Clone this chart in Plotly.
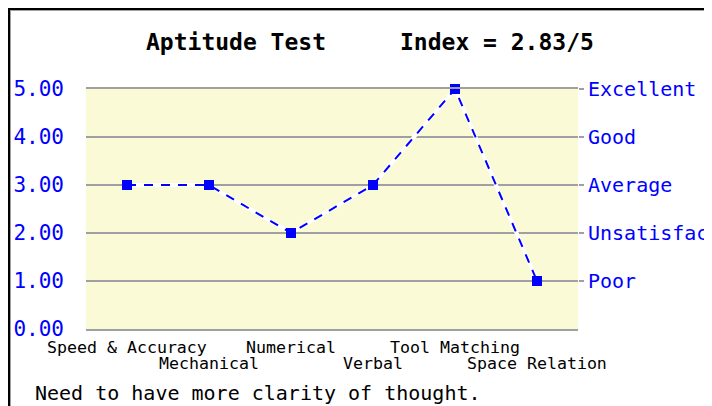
import plotly.graph_objects as go

categories = ["Speed & Accuracy", "Mechanical", "Numerical", "Verbal", "Tool Matching", "Space Relation"]
scores = [3, 3, 2, 3, 5, 1]
left_ticks = [0, 1, 2, 3, 4, 5]
right_tickvals = [1, 2, 3, 4, 5]
right_ticktext = ["Poor", "Unsatisfactory", "Average", "Good", "Excellent"]
title_left = "Aptitude Test"
title_right = "Index = 2.83/5"
comment = "Need to have more clarity of thought."

MONO = "DejaVu Sans Mono"
BLUE = "#0000ff"
GRID = "#a0a0a0"
OFF = 8  # page body margin
W, H = 704, 398
# plot area in screenshot pixels
PX0, PX1, PY0, PY1 = 86, 578, 89, 329
L, T = PX0 - OFF, PY0 - OFF
PW, PH = PX1 - PX0, PY1 - PY0
R, B = W - L - PW, H - T - PH


def px(x):
    return (x - PX0) / PW


def py(y):
    return (PY1 - y) / PH


xi = list(range(len(categories)))

fig = go.Figure()
fig.add_trace(go.Scatter(x=xi, y=scores, mode="lines",
                         line=dict(color="white", width=4), cliponaxis=False,
                         hoverinfo="skip", showlegend=False))
fig.add_trace(go.Scatter(x=xi, y=scores, mode="lines+markers",
                         line=dict(color=BLUE, width=2, dash="9px,8px"),
                         marker=dict(symbol="square", size=10, color=BLUE),
                         cliponaxis=False, showlegend=False))
fig.add_trace(go.Scatter(x=[xi[0]], y=[scores[0]], yaxis="y2", mode="markers",
                         marker=dict(opacity=0), hoverinfo="skip", showlegend=False))

fig.update_layout(
    width=W, height=H,
    margin=dict(l=L, r=R, t=T, b=B, autoexpand=False),
    paper_bgcolor="white",
    plot_bgcolor="#fafad7",
    showlegend=False,
    xaxis=dict(range=[-0.5, len(categories) - 0.5], showgrid=False, zeroline=False,
               showticklabels=False, ticks="", showline=True, mirror=True,
               linecolor=GRID, linewidth=2),
    yaxis=dict(range=[0, 5], tickvals=left_ticks, tickformat=".2f", automargin=False,
               showgrid=True, gridcolor=GRID, gridwidth=2, zeroline=False,
               ticks="", ticklabelstandoff=21,
               tickfont=dict(family=MONO, size=21, color=BLUE)),
    yaxis2=dict(range=[0, 5], overlaying="y", side="right", tickvals=right_tickvals,
                ticktext=right_ticktext, showgrid=False, zeroline=False, automargin=False,
                ticks="outside", ticklen=5, tickcolor=GRID, tickwidth=2,
                ticklabelstandoff=0,
                tickfont=dict(family=MONO, size=20, color=BLUE)),
)

annotations = []
for i, c in enumerate(categories):
    annotations.append(dict(x=i, y=py(347) if i % 2 == 0 else py(363), xref="x", yref="paper",
                            text=c, showarrow=False, xanchor="center", yanchor="middle",
                            font=dict(family=MONO, size=16.6, color="black")))
annotations.append(dict(x=px(236), y=py(42), xref="paper", yref="paper", text="<b>" + title_left + "</b>",
                        showarrow=False, xanchor="center", yanchor="middle",
                        font=dict(family=MONO, size=23, color="black")))
annotations.append(dict(x=px(497), y=py(42), xref="paper", yref="paper", text="<b>" + title_right + "</b>",
                        showarrow=False, xanchor="center", yanchor="middle",
                        font=dict(family=MONO, size=23, color="black")))
annotations.append(dict(x=px(33), y=py(393), xref="paper", yref="paper", text=comment,
                        showarrow=False, xanchor="left", yanchor="middle",
                        font=dict(family=MONO, size=20, color="black")))
fig.update_layout(annotations=annotations)

RIGHT = OFF + W
shapes = [
    dict(type="line", xref="paper", yref="paper", x0=px(8), x1=px(RIGHT), y0=py(9), y1=py(9),
         line=dict(color="black", width=2), layer="above"),
    dict(type="line", xref="paper", yref="paper", x0=px(10), x1=px(RIGHT), y0=py(10.5), y1=py(10.5),
         line=dict(color=GRID, width=1), layer="above"),
    dict(type="line", xref="paper", yref="paper", x0=px(9), x1=px(9), y0=py(8), y1=py(OFF + H),
         line=dict(color="black", width=2), layer="above"),
    dict(type="line", xref="paper", yref="paper", x0=px(10.5), x1=px(10.5), y0=py(10), y1=py(OFF + H),
         line=dict(color=GRID, width=1), layer="above"),
]
fig.update_layout(shapes=shapes)

fig.write_html("out.html")
